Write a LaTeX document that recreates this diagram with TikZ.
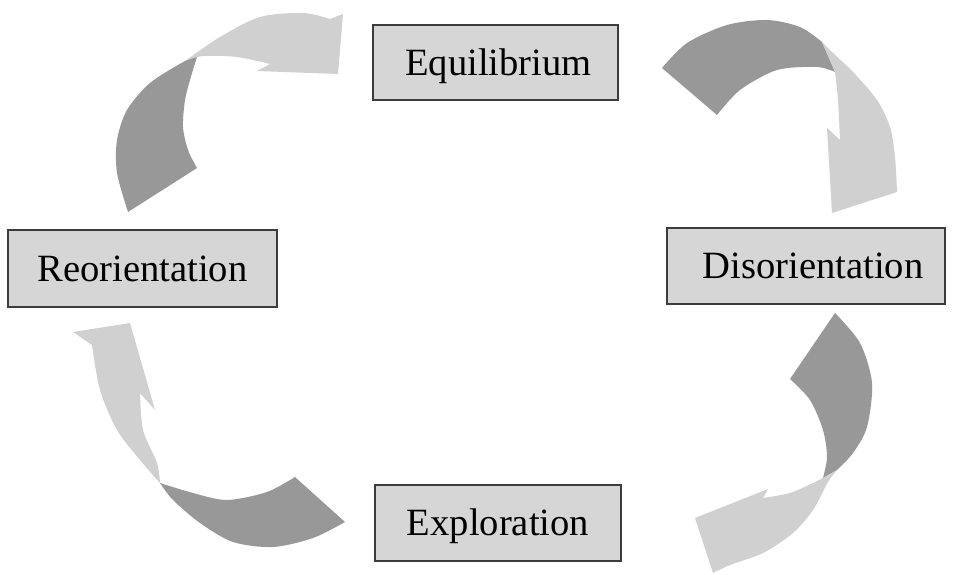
\documentclass[tikz,border=0pt]{standalone}
\usepackage{fontspec}
\setmainfont{Liberation Serif}
\definecolor{ribdark}{RGB}{152,152,152}
\definecolor{riblight}{RGB}{208,208,208}
\definecolor{boxfill}{RGB}{214,214,214}
\definecolor{boxline}{RGB}{60,60,60}
\tikzset{
  stagebox/.style={draw=boxline, line width=1.8pt, fill=boxfill, rectangle,
    inner sep=0pt, text height=25.5pt, text depth=0pt,
    font=\fontsize{38.6}{40}\selectfont},
  darkpart/.style={fill=ribdark},
  lightpart/.style={fill=riblight}
}
\begin{document}
\begin{tikzpicture}[x=1pt,y=-1pt]
\useasboundingbox (0,0) rectangle (953,575);
\fill[white] (0,0) rectangle (953,575);

% top-left ribbon arrow (Reorientation -> Equilibrium)
\fill[darkpart] plot[smooth] coordinates {(128,212) (117,173) (117,140) (127,110) (150,83) (185,61) (197,57)}
  -- plot[smooth] coordinates {(197,57) (190,80) (185,100) (183,127) (188,150) (197,168)} -- cycle;
\fill[lightpart] plot[smooth] coordinates {(185,61) (220,37) (260,17) (303,13) (330,19)}
  -- (343,14) -- (338,74) -- (257,71)
  -- plot[smooth] coordinates {(270,64) (237,57) (203,56) (185,61)} -- cycle;

% top-right ribbon arrow (Equilibrium -> Disorientation)
\fill[darkpart] plot[smooth] coordinates {(662,68) (687,43) (727,25) (767,20) (800,27) (822,42)}
  -- (835,72) -- plot[smooth] coordinates {(835,72) (817,67) (777,70) (740,90) (717,115)} -- cycle;
\fill[lightpart] plot[smooth] coordinates {(822,42) (833,53) (853,72) (877,100) (890,127) (895,157) (897,192)}
  -- (832,213) -- (827,128) -- (840,140)
  -- plot[smooth] coordinates {(840,140) (838,100) (835,72)} -- cycle;

% bottom-right ribbon arrow (Disorientation -> Exploration)
\fill[darkpart] plot[smooth] coordinates {(835,313) (860,343) (872,383) (867,427) (853,453) (837,470)}
  -- (823,478) -- plot[smooth] coordinates {(823,478) (827,457) (823,430) (810,400) (790,379)} -- cycle;
\fill[lightpart] plot[smooth] coordinates {(837,470) (828,482) (813,510) (793,533) (763,553) (730,565) (713,573)}
  -- (695,518) -- (768,489) -- (763,498)
  -- plot[smooth] coordinates {(763,498) (790,493) (813,483) (823,478)} -- cycle;

% bottom-left ribbon arrow (Exploration -> Reorientation)
\fill[darkpart] plot[smooth] coordinates {(345,522) (313,538) (273,547) (233,542) (200,523) (173,500) (160,483)}
  -- plot[smooth] coordinates {(160,483) (193,493) (227,500) (267,492) (295,477)} -- cycle;
\fill[lightpart] plot[smooth] coordinates {(160,483) (140,460) (117,430) (100,390) (92,345)}
  -- (73,332) -- (130,323) -- (155,410) -- (140,393)
  -- plot[smooth] coordinates {(140,393) (143,430) (157,463) (160,483)} -- cycle;

% stage boxes
\node[stagebox, minimum width=245pt, minimum height=75pt] (eq)  at (495.5,62.5) {\hspace*{6pt}Equilibrium};
\node[stagebox, minimum width=278pt, minimum height=76pt] (dis) at (806,266) {\hspace*{14pt}Disorientation};
\node[stagebox, minimum width=269pt, minimum height=77pt] (reo) at (142.5,268.5) {Reorientation};
\node[stagebox, minimum width=246pt, minimum height=76pt] (exp) at (498,523) {Exploration};
\end{tikzpicture}
\end{document}
